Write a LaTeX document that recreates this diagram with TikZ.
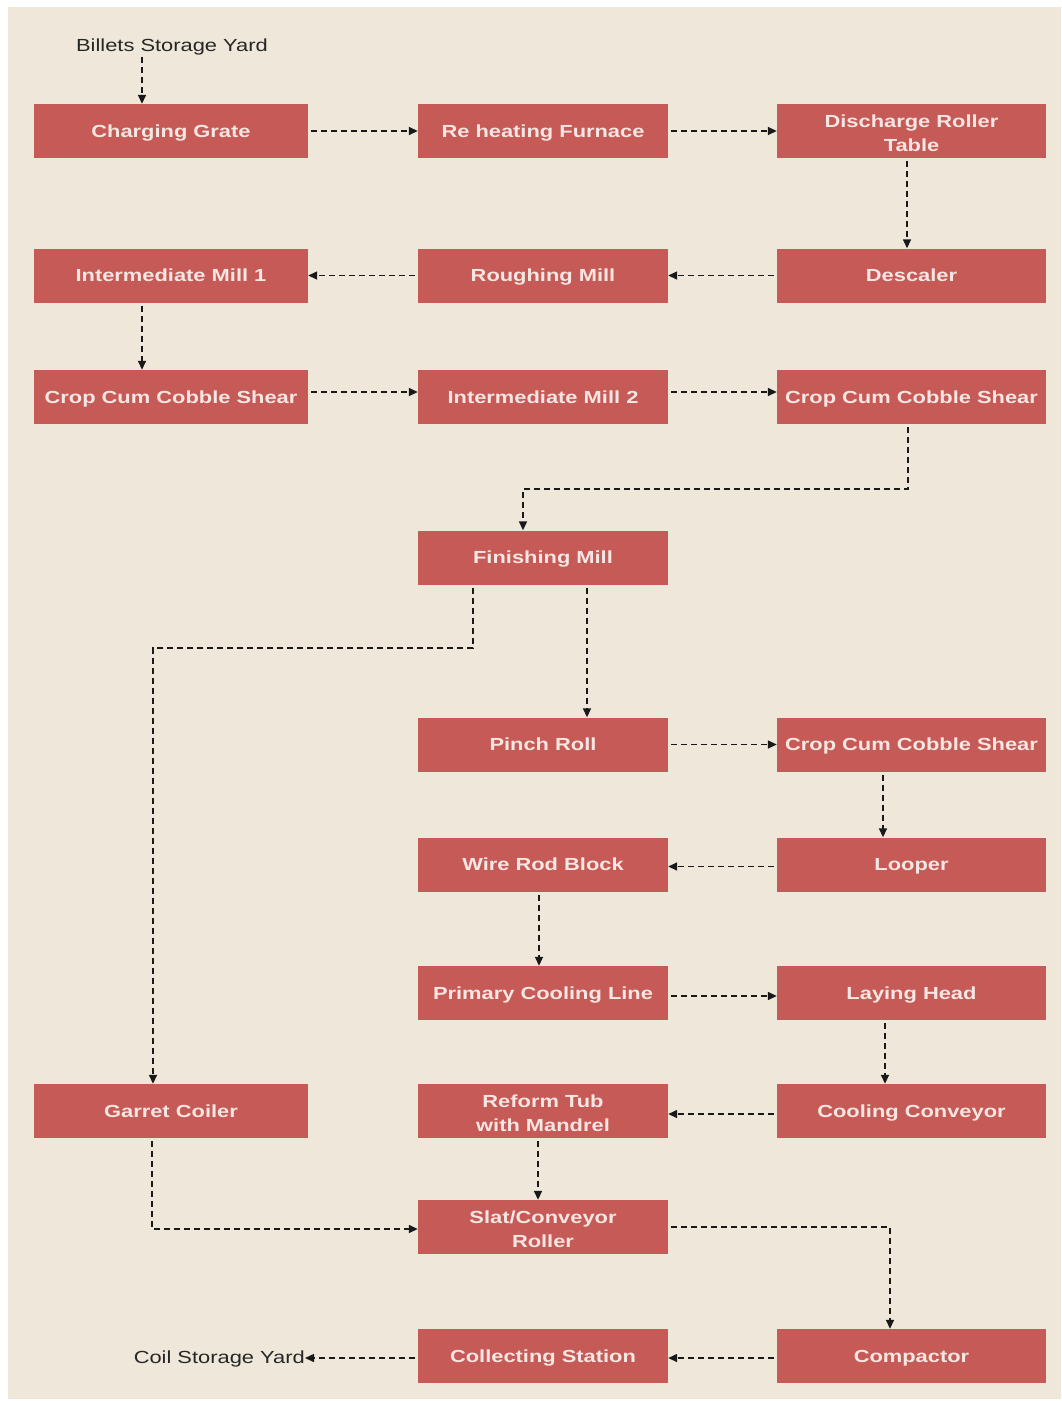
\documentclass[tikz,border=0pt]{standalone}
\usepackage{fontspec}
\setmainfont{Liberation Sans}[FakeStretch=1.25]
\usetikzlibrary{arrows.meta,calc}
\definecolor{bgbeige}{HTML}{EFE8DA}
\definecolor{boxred}{HTML}{C65A57}
\definecolor{boxtext}{HTML}{F8E6E2}
\newcommand{\twoline}[2]{\raisebox{0pt}[\dimexpr\height+4pt\relax][\dimexpr\depth-4pt\relax]{\def\arraystretch{1}\begin{tabular}{@{}c@{}}#1\\#2\end{tabular}}}
\tikzset{
  stepbox/.style={rectangle, fill=boxred, text=boxtext, font=\fontsize{17.5}{24}\selectfont\bfseries,
    minimum height=54pt, inner sep=0pt, align=center},
  oneline/.style={text height=12.5pt, text depth=0pt},
  c1/.style={stepbox, minimum width=274pt},
  c2/.style={stepbox, minimum width=250pt},
  c3/.style={stepbox, minimum width=269pt},
  plainlabel/.style={font=\fontsize{17.5}{20}\selectfont, text=black!85, inner sep=0pt},
  flow/.style={draw=black!90, line width=1.5pt, dash pattern=on 6pt off 4pt,
    -{Triangle[length=9pt,width=8pt]}, shorten <=3pt}
}
\begin{document}
\begin{tikzpicture}[x=1pt,y=-1pt]
\useasboundingbox (0,0) rectangle (1061,1401);
\fill[white] (0,0) rectangle (1061,1401);
\fill[bgbeige] (8,7) rectangle (1061,1399);

% labels
\node[plainlabel] (bsy) at (172,47) {Billets Storage Yard};
\node[plainlabel, anchor=east] (csy) at (305,1359) {Coil Storage Yard};

% row 1
\node[c1, oneline] (cg) at (171,131) {Charging Grate};
\node[c2, oneline] (rhf) at (543,131) {Re heating Furnace};
\node[c3] (drt) at (911.5,131) {\twoline{Discharge Roller}{Table}};
% row 2
\node[c1, oneline] (im1) at (171,275.5) {Intermediate Mill 1};
\node[c2, oneline] (rm) at (543,275.5) {Roughing Mill};
\node[c3, oneline] (desc) at (911.5,275.5) {Descaler};
% row 3
\node[c1, oneline] (ccs1) at (171,397) {Crop Cum Cobble Shear};
\node[c2, oneline] (im2) at (543,397) {Intermediate Mill 2};
\node[c3, oneline] (ccs2) at (911.5,397) {Crop Cum Cobble Shear};
% finishing
\node[c2, oneline] (fm) at (543,557.5) {Finishing Mill};
\node[c2, oneline] (pr) at (543,744.5) {Pinch Roll};
\node[c3, oneline] (ccs3) at (911.5,744.5) {Crop Cum Cobble Shear};
\node[c2, oneline] (wrb) at (543,864.5) {Wire Rod Block};
\node[c3, oneline] (loop) at (911.5,864.5) {Looper};
\node[c2, oneline] (pcl) at (543,993) {Primary Cooling Line};
\node[c3, oneline] (lh) at (911.5,993) {Laying Head};
\node[c1, oneline] (gc) at (171,1111) {Garret Coiler};
\node[c2] (rt) at (543,1111) {\twoline{Reform Tub}{with Mandrel}};
\node[c3, oneline] (cc) at (911.5,1111) {Cooling Conveyor};
\node[c2] (slat) at (543,1227) {\twoline{Slat/Conveyor}{Roller}};
\node[c2, oneline] (cst) at (543,1356) {Collecting Station};
\node[c3, oneline] (comp) at (911.5,1356) {Compactor};

% helper coordinates
\coordinate (a1) at ([xshift=-29pt]cg.north);
\coordinate (a2) at ([xshift=-4.5pt]drt.south);
\coordinate (a3) at ([xshift=-29pt]im1.south);
\coordinate (a4) at ([xshift=-3.5pt]ccs2.south);
\coordinate (a4b) at ([xshift=-20pt]fm.north);
\coordinate (a5) at ([xshift=-70pt]fm.south);
\coordinate (a5b) at ([xshift=-18pt]gc.north);
\coordinate (a6) at ([xshift=44pt]fm.south);
\coordinate (a7) at ([xshift=-28.5pt]ccs3.south);
\coordinate (a8) at ([xshift=-4pt]wrb.south);
\coordinate (a9) at ([xshift=-26.5pt]lh.south);
\coordinate (a10) at ([xshift=-5pt]rt.south);
\coordinate (a11) at ([xshift=-19pt]gc.south);
\coordinate (a12) at ([xshift=-21.5pt]comp.north);

% connectors
\draw[flow, shorten <=2pt] (a1 |- bsy.south) -- (a1);
\draw[flow] (cg.east) -- (rhf.west);
\draw[flow] (rhf.east) -- (drt.west);
\draw[flow] (a2) -- (a2 |- desc.north);
\draw[flow] (desc.west) -- (rm.east);
\draw[flow] (rm.west) -- (im1.east);
\draw[flow] (a3) -- (a3 |- ccs1.north);
\draw[flow] ([yshift=5pt]ccs1.east) -- ([yshift=5pt]im2.west);
\draw[flow] ([yshift=5pt]im2.east) -- ([yshift=5pt]ccs2.west);
\draw[flow] (a4) -- (a4 |- 0,489) -- (a4b |- 0,489) -- (a4b);
\draw[flow] (a6) -- (a6 |- pr.north);
\draw[flow] (a5) -- (a5 |- 0,648) -- (a5b |- 0,648) -- (a5b);
\draw[flow] (pr.east) -- (ccs3.west);
\draw[flow] (a7) -- (a7 |- loop.north);
\draw[flow] ([yshift=-2pt]loop.west) -- ([yshift=-2pt]wrb.east);
\draw[flow] (a8) -- (a8 |- pcl.north);
\draw[flow] ([yshift=-3pt]pcl.east) -- ([yshift=-3pt]lh.west);
\draw[flow] (a9) -- (a9 |- cc.north);
\draw[flow] ([yshift=-3pt]cc.west) -- ([yshift=-3pt]rt.east);
\draw[flow] (a10) -- (a10 |- slat.north);
\draw[flow] (a11) -- (a11 |- 0,1229) -- ([yshift=-2pt]slat.west);
\draw[flow] (slat.east) -- (a12 |- slat.east) -- (a12);
\draw[flow] ([yshift=-2pt]comp.west) -- ([yshift=-2pt]cst.east);
\draw[flow] ([yshift=-2pt]cst.west) -- ([yshift=1pt]csy.east);
\end{tikzpicture}
\end{document}
